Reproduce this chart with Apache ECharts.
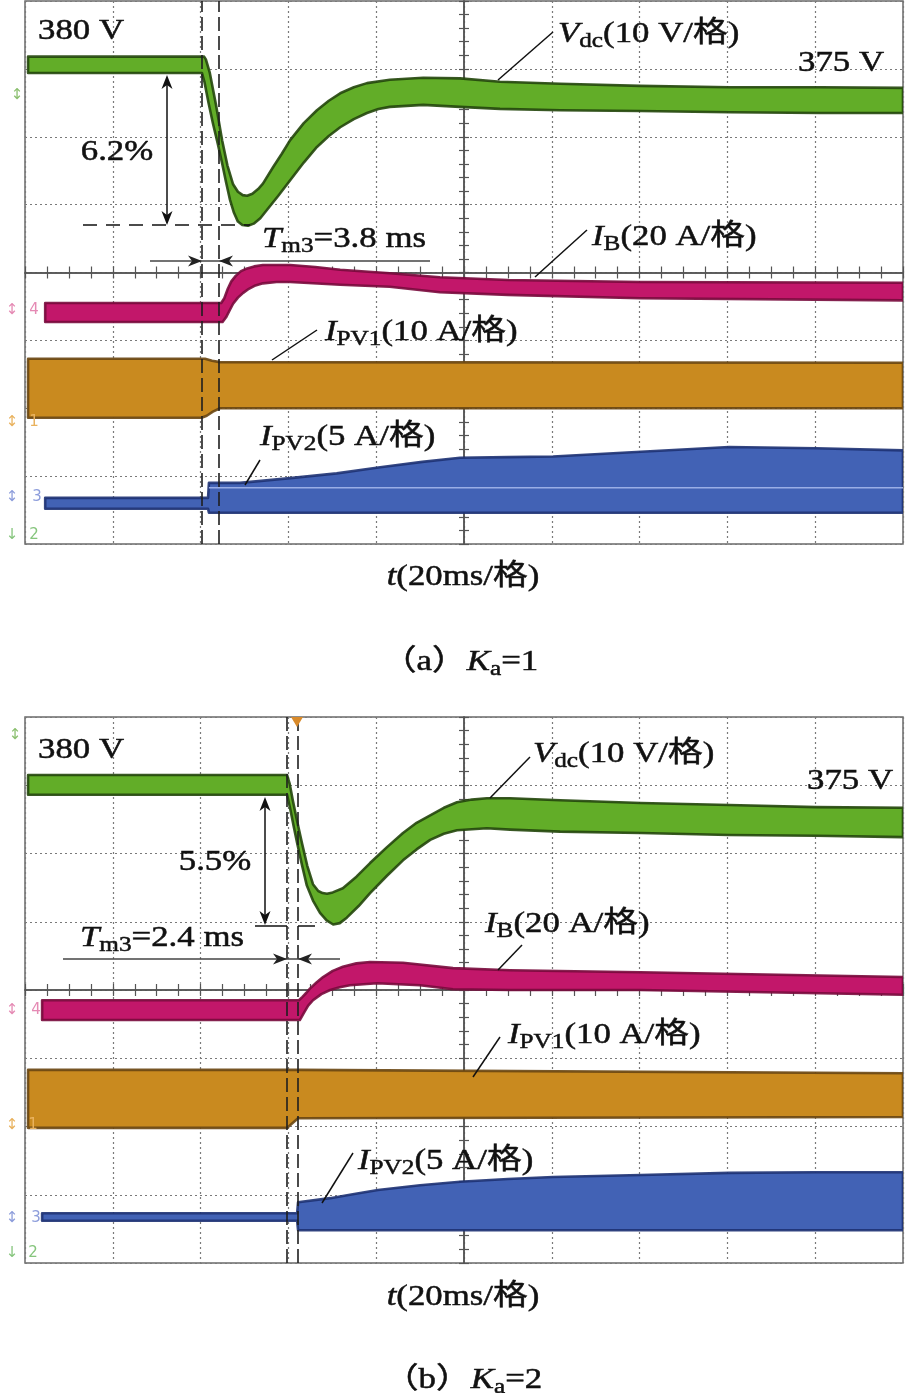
<!DOCTYPE html>
<html><head><meta charset="utf-8">
<script src="https://cdn.jsdelivr.net/npm/echarts/dist/echarts.min.js"></script>
<style>html,body{margin:0;padding:0;background:#fff}#c{width:905px;height:1393px}</style>
</head><body><div id="c"></div>
<script>
// ---------- DATA (t in ms, trigger at centre; y in scope divisions) ----------
// Panel (a) Ka = 1 : upper / lower edges of each recorded trace band
const vdcA_upper = [[-99.3,3.18],[-59.2,3.18],[-58.8,3.14],[-57.9,2.94],[-56.5,2.47],[-55.1,1.95],[-53.9,1.58],[-52.6,1.30],[-51.5,1.19],[-50.4,1.14],[-49.4,1.13],[-48.2,1.16],[-46.9,1.23],[-45.8,1.31],[-43.5,1.55],[-41.5,1.75],[-39.6,1.95],[-36.5,2.20],[-33.5,2.39],[-30.8,2.53],[-28.2,2.64],[-25.1,2.73],[-22.1,2.79],[-16.9,2.84],[-9.3,2.87],[-0.9,2.86],[8.2,2.81],[21.9,2.78],[40.1,2.75],[60.6,2.73],[81.1,2.73],[100,2.72]];
const vdcA_lower = [[-99.3,2.94],[-59.7,2.94],[-59.1,2.80],[-58.2,2.50],[-57.2,2.20],[-56.1,1.90],[-55.1,1.61],[-54.2,1.33],[-53.3,1.07],[-52.4,0.88],[-51.5,0.75],[-50.5,0.70],[-49.2,0.69],[-47.9,0.72],[-46.4,0.80],[-44.9,0.92],[-42.3,1.13],[-39.6,1.36],[-36.5,1.62],[-33.5,1.85],[-30.8,2.01],[-28.2,2.14],[-25.1,2.26],[-22.1,2.35],[-19.5,2.41],[-16.9,2.44],[-9.3,2.47],[-0.9,2.44],[8.2,2.41],[21.9,2.39],[40.1,2.38],[60.6,2.36],[81.1,2.35],[100,2.35]];
const ibA_upper = [[-95.4,-0.45],[-55.3,-0.45],[-54.6,-0.38],[-53.8,-0.24],[-53.0,-0.13],[-52.0,-0.05],[-50.8,0.02],[-49.4,0.06],[-47.8,0.09],[-45.8,0.11],[-39.6,0.11],[-33.9,0.08],[-28.2,0.04],[-16.9,-0.01],[-5.5,-0.07],[10,-0.11],[40.1,-0.14],[100,-0.15]];
const ibA_lower = [[-95.4,-0.73],[-55.0,-0.73],[-54.2,-0.66],[-53.4,-0.56],[-52.6,-0.46],[-51.5,-0.37],[-50.3,-0.30],[-49.0,-0.24],[-47.5,-0.19],[-45.8,-0.16],[-42.7,-0.14],[-39.6,-0.14],[-28.2,-0.18],[-16.9,-0.21],[-5.5,-0.29],[10,-0.33],[40.1,-0.38],[100,-0.41]];
const ipv1A_upper = [[-99.3,-1.27],[-59.0,-1.27],[-57.4,-1.30],[-55.6,-1.32],[100,-1.33]];
const ipv1A_lower = [[-99.3,-2.14],[-59.8,-2.14],[-58.6,-2.11],[-57.2,-2.05],[-55.6,-2.00],[100,-2.00]];
const ipv2A_upper = [[-95.4,-3.32],[-58.3,-3.32],[-58.1,-3.10],[-51.0,-3.10],[-39.6,-3.03],[-29.0,-2.96],[-19.1,-2.87],[-9.5,-2.79],[-0.9,-2.73],[10,-2.72],[20.3,-2.71],[40.3,-2.64],[60.4,-2.57],[80.2,-2.59],[100,-2.62]];
const ipv2A_lower = [[-95.4,-3.48],[-58.3,-3.48],[-58.1,-3.54],[100,-3.54]];
const ipv2A_mid = [[-58.1,-3.17],[100,-3.17]];
const eventsA = [-59.7, -55.8];   // Tm3 = 3.8 ms

// Panel (b) Ka = 2
const vdcB_upper = [[-99.3,3.15],[-40.3,3.15],[-39.7,3.02],[-39.0,2.78],[-38.0,2.47],[-36.9,2.15],[-35.7,1.82],[-34.4,1.55],[-33.2,1.45],[-32.2,1.42],[-31.2,1.41],[-29.9,1.43],[-27.6,1.49],[-24.5,1.66],[-21.4,1.86],[-17.6,2.09],[-13.9,2.30],[-10.8,2.45],[-7.7,2.56],[-4.6,2.67],[-1.6,2.75],[1.8,2.79],[5.2,2.81],[10.5,2.81],[21.9,2.78],[40.3,2.74],[60.4,2.71],[80.2,2.68],[100,2.67]];
const vdcB_lower = [[-99.3,2.86],[-40.3,2.86],[-39.6,2.66],[-38.8,2.40],[-38.0,2.15],[-36.9,1.83],[-35.8,1.53],[-34.4,1.31],[-32.8,1.13],[-31.3,1.02],[-29.8,0.96],[-28.3,0.98],[-26.7,1.06],[-24.0,1.23],[-21.4,1.42],[-17.6,1.67],[-13.9,1.90],[-10.8,2.06],[-7.7,2.20],[-4.6,2.29],[-1.6,2.34],[5.2,2.37],[10.5,2.35],[21.9,2.32],[40.3,2.30],[60.4,2.27],[80.2,2.26],[100,2.24]];
const ibB_upper = [[-96.1,-0.15],[-37.6,-0.15],[-36.8,-0.10],[-35.9,-0.04],[-35.1,0.02],[-33.6,0.11],[-32.1,0.19],[-29.9,0.28],[-27.6,0.34],[-24.5,0.39],[-21.4,0.41],[-13.9,0.40],[-2.5,0.32],[10.5,0.29],[40.1,0.26],[100,0.19]];
const ibB_lower = [[-96.1,-0.44],[-37.4,-0.44],[-36.5,-0.34],[-35.5,-0.23],[-34.4,-0.15],[-32.5,-0.06],[-30.5,0.00],[-28.3,0.04],[-26.0,0.07],[-19.8,0.10],[-10.0,0.07],[-2.5,0.01],[10.5,0.00],[40.1,0.00],[100,-0.07]];
const ipv1B_upper = [[-99.3,-1.17],[-37.8,-1.17],[100,-1.22]];
const ipv1B_lower = [[-99.3,-2.02],[-40.3,-2.02],[-37.8,-1.88],[100,-1.86]];
const ipv2B_upper = [[-96.1,-3.27],[-38.0,-3.27],[-37.8,-3.11],[-30.5,-3.05],[-25.0,-2.99],[-19.6,-2.93],[-10.0,-2.86],[-0.9,-2.81],[10,-2.77],[20.3,-2.74],[40.3,-2.71],[60.4,-2.68],[80.2,-2.67],[100,-2.67]];
const ipv2B_lower = [[-96.1,-3.38],[-38.0,-3.38],[-37.8,-3.52],[100,-3.52]];
const eventsB = [-40.3, -37.9];   // Tm3 = 2.4 ms

// ---------- STYLE ----------
const COL = {
  vdc:  {fill:'#62ad28', stroke:'rgba(35,70,12,0.9)'},
  ib:   {fill:'#c2176a', stroke:'rgba(120,10,60,0.9)'},
  ipv1: {fill:'#c98a1f', stroke:'rgba(105,70,18,0.9)'},
  ipv2: {fill:'#4262b5', stroke:'rgba(30,50,115,0.9)'}
};
const F = '"Liberation Serif","Noto Sans CJK SC",serif';
const INK = '#111';

function axX(g){
  const base = {gridIndex:g, type:'value', min:-100, max:100, interval:20, axisLabel:{show:false}};
  const tk = {color:'#555', width:1.2};
  return [
    Object.assign({}, base, {position:'bottom',
      axisLine:{show:true, onZero:true, onZeroAxisIndex:g*2, lineStyle:{color:'#555', width:1.5}},
      axisTick:{show:true, inside:false, length:6, lineStyle:tk},
      minorTick:{show:true, splitNumber:4, length:6, lineStyle:tk},
      splitLine:{show:true, lineStyle:{type:[2,3], color:'#7a7a7a', width:1.2}}}),
    Object.assign({}, base, {position:'top',
      axisLine:{show:true, onZero:true, onZeroAxisIndex:g*2+1, lineStyle:{color:'#555', width:1.5}},
      axisTick:{show:true, inside:false, length:6, lineStyle:tk},
      minorTick:{show:true, splitNumber:4, length:6, lineStyle:tk},
      splitLine:{show:false}})
  ];
}
function axY(g){
  const base = {gridIndex:g, type:'value', min:-4, max:4, interval:1, axisLabel:{show:false}};
  const tk = {color:'#555', width:1.2};
  return [
    Object.assign({}, base, {position:'left',
      axisLine:{show:true, onZero:true, onZeroAxisIndex:g*2, lineStyle:{color:'#555', width:1.5}},
      axisTick:{show:true, inside:false, length:5, lineStyle:tk},
      minorTick:{show:true, splitNumber:5, length:5, lineStyle:tk},
      splitLine:{show:true, lineStyle:{type:[2,3], color:'#7a7a7a', width:1.2}}}),
    Object.assign({}, base, {position:'right',
      axisLine:{show:true, onZero:true, onZeroAxisIndex:g*2+1, lineStyle:{color:'#555', width:1.5}},
      axisTick:{show:true, inside:false, length:5, lineStyle:tk},
      minorTick:{show:true, splitNumber:5, length:5, lineStyle:tk},
      splitLine:{show:false}})
  ];
}

function band(name, g, up, lo, c){
  const pts = up.concat(lo.slice().reverse());
  return {
    type:'custom', name, xAxisIndex:g*2, yAxisIndex:g*2, clip:true, silent:true, z:2,
    data: pts, encode:{x:0, y:1},
    renderItem: function(params, api){
      if (params.dataIndex !== 0) return null;
      return {type:'polygon', shape:{points: pts.map(p => api.coord(p))},
              style:{fill:c.fill, stroke:c.stroke, lineWidth:2.6, lineJoin:'round'}};
    }
  };
}
function events(g, ev){
  return {type:'line', xAxisIndex:g*2, yAxisIndex:g*2, data:[], silent:true, z:6,
    markLine:{symbol:['none','none'], silent:true, animation:false, label:{show:false},
      lineStyle:{type:[14,5], color:'#1e1e1e', width:1.6},
      emphasis:{disabled:true},
      data: ev.map(t => ({xAxis:t}))}};
}

// ---------- ANNOTATIONS (pixel layout) ----------
const gfx = [];
function ln(x1,y1,x2,y2,o){ o=o||{}; gfx.push({type:'line', z:100, silent:true, shape:{x1,y1,x2,y2},
  style:{stroke:o.c||INK, lineWidth:o.w||1.5, lineDash:o.dash||null}}); }
function ah(tx,ty,dx,dy,o){ o=o||{}; const L=o.len||14, H=o.hw||5.5, N=4; const nx=-dy, ny=dx;
  gfx.push({type:'polygon', z:101, silent:true, shape:{points:[[tx,ty],[tx-dx*L+nx*H, ty-dy*L+ny*H],[tx-dx*(L-N), ty-dy*(L-N)],[tx-dx*L-nx*H, ty-dy*L-ny*H]]},
  style:{fill:o.c||INK}}); }
function tx(x,y,text,align){
  const FS=29, SUB=21, LH=36;
  gfx.push({type:'text', z:102, silent:true, x, y, scaleX:1.2,
    style:{text, align:align||'left', verticalAlign:'middle', fill:INK, stroke:INK, lineWidth:0.5,
      fontFamily:F, fontSize:FS, lineHeight:LH,
      rich:{ i:{fontFamily:F, fontSize:FS, fontStyle:'italic', lineHeight:LH},
             s:{fontFamily:F, fontSize:SUB, lineHeight:SUB, verticalAlign:'bottom'} }}});
}
function mk(x,y,t,c){
  gfx.push({type:'text', z:102, silent:true, x, y, style:{text:t, fill:c, fontFamily:'"DejaVu Sans"', fontSize:15, align:'center', verticalAlign:'middle'}});
}

// panel (a)
tx(38,31,'380 V'); tx(117,152,'6.2%','center'); tx(798,63,'375 V');
tx(558,34,'{i|V}{s|dc}(10 V/格)');
tx(262,239,'{i|T}{s|m3}=3.8 ms');
tx(592,237,'{i|I}{s|B}(20 A/格)');
tx(325,332,'{i|I}{s|PV1}(10 A/格)');
tx(260,437,'{i|I}{s|PV2}(5 A/格)');
tx(463,577,'{i|t}(20ms/格)','center');
tx(460,662,'（a）{i|K}{s|a}=1','center');
ln(498,80,553,32); ln(535,277,587,230); ln(272,360,317,330); ln(245,485,260,460);
ln(167,80,167,220); ah(167,75,0,-1); ah(167,225,0,1);
ln(83,225,250,225,{dash:[14,9]});
ln(150,261,430,261,{c:'#444'}); ah(202,261,1,0,{c:'#222'}); ah(219,261,-1,0,{c:'#222'});
// panel (b)
tx(38,750,'380 V'); tx(215,862,'5.5%','center'); tx(807,781,'375 V');
tx(533,754,'{i|V}{s|dc}(10 V/格)');
tx(80,938,'{i|T}{s|m3}=2.4 ms');
tx(485,924,'{i|I}{s|B}(20 A/格)');
tx(508,1035,'{i|I}{s|PV1}(10 A/格)');
tx(358,1161,'{i|I}{s|PV2}(5 A/格)');
tx(463,1297,'{i|t}(20ms/格)','center');
tx(463,1380,'（b）{i|K}{s|a}=2','center');
ln(490,798,530,757); ln(498,970,522,945); ln(473,1077,500,1037); ln(322,1203,353,1153);
ln(265,802,265,920); ah(265,797,0,-1); ah(265,925,0,1);
ln(255,926,287,926); ln(298,926,315,926);
ln(63,959,340,959,{c:'#444'}); ah(287,959,1,0,{c:'#222'}); ah(298,959,-1,0,{c:'#222'});
gfx.push({type:'polygon', z:101, silent:true, shape:{points:[[291,717],[303,717],[297,727]]}, style:{fill:'#d98a2a'}});
// channel markers
mk(34,310,'4','#e58ab4'); mk(12,310,'↕','#e58ab4');
mk(34,422,'1','#e9b25e'); mk(12,422,'↕','#e9b25e');
mk(37,497,'3','#8d9ddb'); mk(12,497,'↕','#8d9ddb');
mk(34,535,'2','#86c57d'); mk(12,535,'↓','#86c57d');
mk(17,95,'↕','#8cc070');
mk(36,1010,'4','#e58ab4'); mk(12,1010,'↕','#e58ab4');
mk(33,1125,'1','#e9b25e'); mk(12,1125,'↕','#e9b25e');
mk(36,1218,'3','#8d9ddb'); mk(12,1218,'↕','#8d9ddb');
mk(33,1253,'2','#86c57d'); mk(12,1253,'↓','#86c57d');
mk(15,735,'↕','#8cc070');

const option = {
  animation:false, backgroundColor:'#fff',
  grid:[
    {left:25, top:1, width:878, height:543, show:true, borderColor:'#6a6a6a', borderWidth:1.5, backgroundColor:'#fff', outerBoundsMode:'none'},
    {left:25, top:717, width:878, height:546, show:true, borderColor:'#6a6a6a', borderWidth:1.5, backgroundColor:'#fff', outerBoundsMode:'none'}
  ],
  xAxis:[...axX(0), ...axX(1)],
  yAxis:[...axY(0), ...axY(1)],
  series:[
    band('Vdc (a)',0,vdcA_upper,vdcA_lower,COL.vdc),
    band('IB (a)',0,ibA_upper,ibA_lower,COL.ib),
    band('IPV1 (a)',0,ipv1A_upper,ipv1A_lower,COL.ipv1),
    band('IPV2 (a)',0,ipv2A_upper,ipv2A_lower,COL.ipv2),
    {type:'line', name:'IPV2 ref (a)', xAxisIndex:0, yAxisIndex:0, data:ipv2A_mid, showSymbol:false, silent:true, z:3,
     lineStyle:{color:'#9aaee6', width:1.5}},
    events(0, eventsA),
    band('Vdc (b)',1,vdcB_upper,vdcB_lower,COL.vdc),
    band('IB (b)',1,ibB_upper,ibB_lower,COL.ib),
    band('IPV1 (b)',1,ipv1B_upper,ipv1B_lower,COL.ipv1),
    band('IPV2 (b)',1,ipv2B_upper,ipv2B_lower,COL.ipv2),
    events(1, eventsB)
  ],
  graphic: gfx
};
const chart = echarts.init(document.getElementById('c'));
chart.setOption(option);
</script></body></html>
